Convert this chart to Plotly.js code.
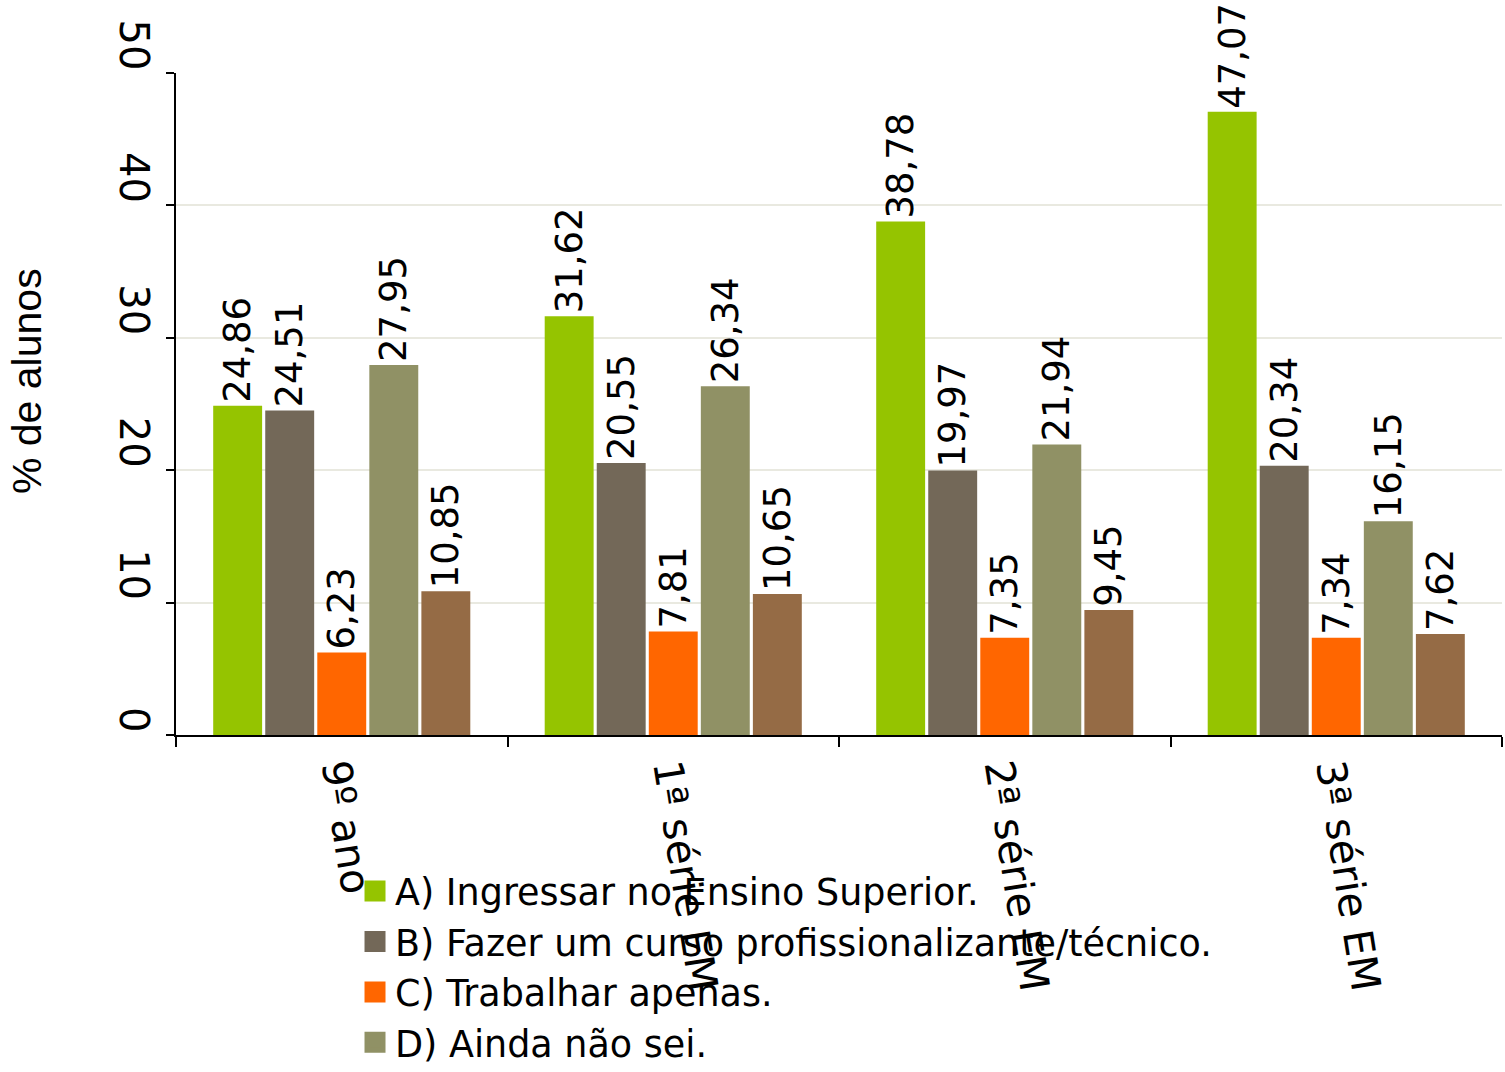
<!DOCTYPE html>
<html>
<head>
<meta charset="utf-8">
<script src="https://cdn.plot.ly/plotly-3.0.1.min.js"></script>
<style>html,body{margin:0;padding:0;background:#fff;}</style>
</head>
<body>
<div id="chart" style="width:1505px;height:1072px;"></div>
<script>
const categories = ['9º ano', '1ª série EM', '2ª série EM', '3ª série EM'];
const seriesNames = [
  'A) Ingressar no Ensino Superior.',
  'B) Fazer um curso profissionalizante/técnico.',
  'C) Trabalhar apenas.',
  'D) Ainda não sei.',
  'E)'
];
const valuesA = [24.86, 31.62, 38.78, 47.07];
const valuesB = [24.51, 20.55, 19.97, 20.34];
const valuesC = [6.23, 7.81, 7.35, 7.34];
const valuesD = [27.95, 26.34, 21.94, 16.15];
const valuesE = [10.85, 10.65, 9.45, 7.62];
const yTicks = [0, 10, 20, 30, 40, 50];
const yTitle = '% de alunos';

const colors = ['#95c400', '#736858', '#ff6600', '#909165', '#956b45'];
const allValues = [valuesA, valuesB, valuesC, valuesD, valuesE];
const FONT = '"DejaVu Sans", sans-serif';

const traces = [];
allValues.forEach((vals, i) => {
  traces.push({
    type: 'bar',
    x: categories,
    y: vals,
    name: seriesNames[i],
    showlegend: false,
    marker: {color: colors[i]},
    texttemplate: '%{y:.2f}',
    textposition: 'outside',
    textangle: -90,
    constraintext: 'none',
    cliponaxis: false,
    textfont: {family: FONT, size: 37, color: '#000'},
    hoverinfo: 'x+y+name'
  });
});
// legend entries (only the first four are visible in the picture)
for (let i = 0; i < 4; i++) {
  traces.push({
    type: 'scatter',
    mode: 'markers',
    x: [null],
    y: [null],
    name: seriesNames[i],
    showlegend: true,
    marker: {symbol: 'square', size: 16, color: colors[i], line: {color: colors[i], width: 5}},
    hoverinfo: 'skip'
  });
}

// labels are end-aligned at the tick in the picture: pad short ones with figure spaces
const maxLen = Math.max(...yTicks.map(v => String(v).length));
const yTickText = yTicks.map(v => '\u2007'.repeat(maxLen - String(v).length) + String(v));

const layout = {
  width: 1505,
  height: 1072,
  margin: {l: 176, r: 3, t: 73, b: 337, autoexpand: false},
  paper_bgcolor: '#fff',
  plot_bgcolor: '#fff',
  separators: ',.',
  barmode: 'group',
  bargap: 0.215,
  bargroupgap: 0.06,
  font: {family: FONT, size: 37, color: '#000'},
  xaxis: {
    type: 'category',
    showline: true,
    linecolor: '#000',
    linewidth: 2,
    ticks: 'outside',
    tickson: 'boundaries',
    ticklen: 10,
    tickwidth: 2,
    tickcolor: '#000',
    tickangle: 81,
    ticklabelstandoff: -6,
    tickfont: {family: FONT, size: 41, color: '#000'},
    showgrid: false,
    zeroline: false
  },
  yaxis: {
    range: [0, 50],
    tickvals: yTicks,
    ticktext: yTickText,
    showline: true,
    linecolor: '#000',
    linewidth: 2,
    ticks: 'outside',
    ticklen: 8,
    tickwidth: 2,
    tickcolor: '#000',
    tickangle: 90,
    ticklabelshift: -22,
    ticklabelstandoff: -2,
    tickfont: {family: FONT, size: 40, color: '#000'},
    showgrid: true,
    gridcolor: '#e9e9e0',
    gridwidth: 2,
    zeroline: false,
    title: {text: '<span>\u2007\u2007</span>' + yTitle, standoff: 57, font: {family: '"Liberation Sans", Arial, sans-serif', size: 41, color: '#000'}}
  },
  legend: {
    x: 0.135,
    xanchor: 'left',
    y: -0.19,
    yanchor: 'top',
    bgcolor: 'rgba(0,0,0,0)',
    font: {family: FONT, size: 36.5, color: '#000'},
    tracegroupgap: 0
  },
  showlegend: true
};

Plotly.newPlot('chart', traces, layout, {displayModeBar: false, staticPlot: true});
</script>
</body>
</html>
